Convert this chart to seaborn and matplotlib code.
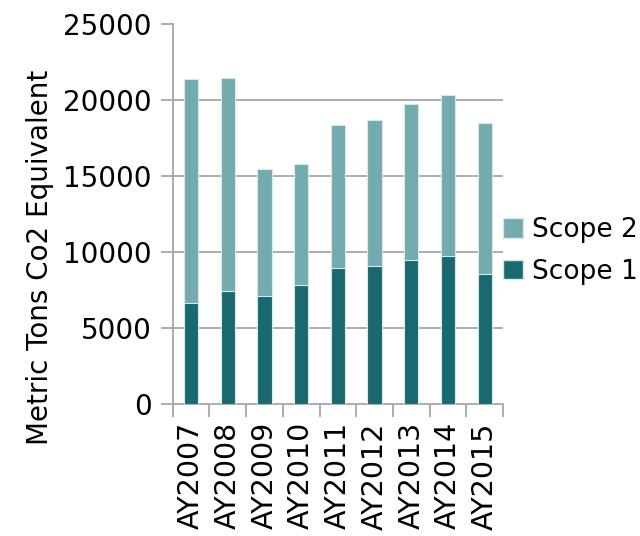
import matplotlib
matplotlib.use("Agg")
import matplotlib.pyplot as plt
import seaborn as sns
import pandas as pd
import numpy as np
from matplotlib.patches import Patch

years = ["AY2007", "AY2008", "AY2009", "AY2010", "AY2011", "AY2012", "AY2013", "AY2014", "AY2015"]
scope1 = [6660, 7430, 7110, 7850, 8930, 9060, 9450, 9740, 8570]
scope2 = [14700, 14040, 8370, 7940, 9450, 9620, 10290, 10570, 9940]

c_scope1 = "#1A6970"
c_scope2 = "#74ABAE"

sns.set_theme(style="white")
plt.rcParams['font.family'] = ['DejaVu Sans']
plt.rcParams['text.color'] = 'black'

df = pd.DataFrame({"year": years, "scope1": scope1, "scope2": scope2})
df["total"] = df["scope1"] + df["scope2"]

fig = plt.figure(figsize=(6.4, 5.36), dpi=100)
ax = fig.add_axes([0.270, 0.246, 0.516, 0.709])

for v in [5000, 10000, 15000, 20000]:
    ax.axhline(v, color="#A6A6A6", lw=1.3, zorder=0)

sns.barplot(data=df, x="year", y="total", color=c_scope2, width=0.39,
            edgecolor="#D8E8E9", linewidth=0.8, ax=ax, zorder=2, saturation=1)
sns.barplot(data=df, x="year", y="scope1", color=c_scope1, width=0.39,
            edgecolor="#D8E8E9", linewidth=0.8, ax=ax, zorder=3, saturation=1)

ax.set_ylim(0, 25000)
ax.set_xlim(-0.5, len(years) - 0.5)
ax.set_yticks([0, 5000, 10000, 15000, 20000, 25000])
ax.set_yticklabels(["0", "5000", "10000", "15000", "20000", "25000"])
ax.set_xticks(range(len(years)))
ax.set_xticklabels(years, rotation=90)
ax.set_xticks(np.arange(-0.5, len(years)), minor=True)
ax.tick_params(axis="x", which="major", length=0, labelsize=20.5, pad=13, labelcolor="black")
ax.tick_params(axis="x", which="minor", length=9, width=1.3, color="#A6A6A6", bottom=True)
ax.tick_params(axis="y", which="major", length=9, width=1.3, color="#A6A6A6", left=True,
               labelsize=20, pad=6, labelcolor="black")
ax.set_xlabel("")
ax.set_ylabel("")

for s in ["top", "right"]:
    ax.spines[s].set_visible(False)
for s in ["left", "bottom"]:
    ax.spines[s].set_color("#A6A6A6")
    ax.spines[s].set_linewidth(1.3)

fig.text(40 / 640, 1 - 257 / 536, "Metric Tons Co2 Equivalent", rotation=90,
         ha="center", va="center", fontsize=20, color="black")

handles = [Patch(facecolor=c_scope2, edgecolor="#D8E8E9", label="Scope 2"),
           Patch(facecolor=c_scope1, edgecolor="#D8E8E9", label="Scope 1")]
fig.legend(handles=handles, loc="center left", bbox_to_anchor=(503 / 640, 1 - 251 / 536),
           frameon=False, fontsize=19, handlelength=0.75, handleheight=0.75,
           handletextpad=0.35, labelspacing=0.6, borderaxespad=0, borderpad=0,
           labelcolor="black")

fig.savefig("out.png", dpi=100)
